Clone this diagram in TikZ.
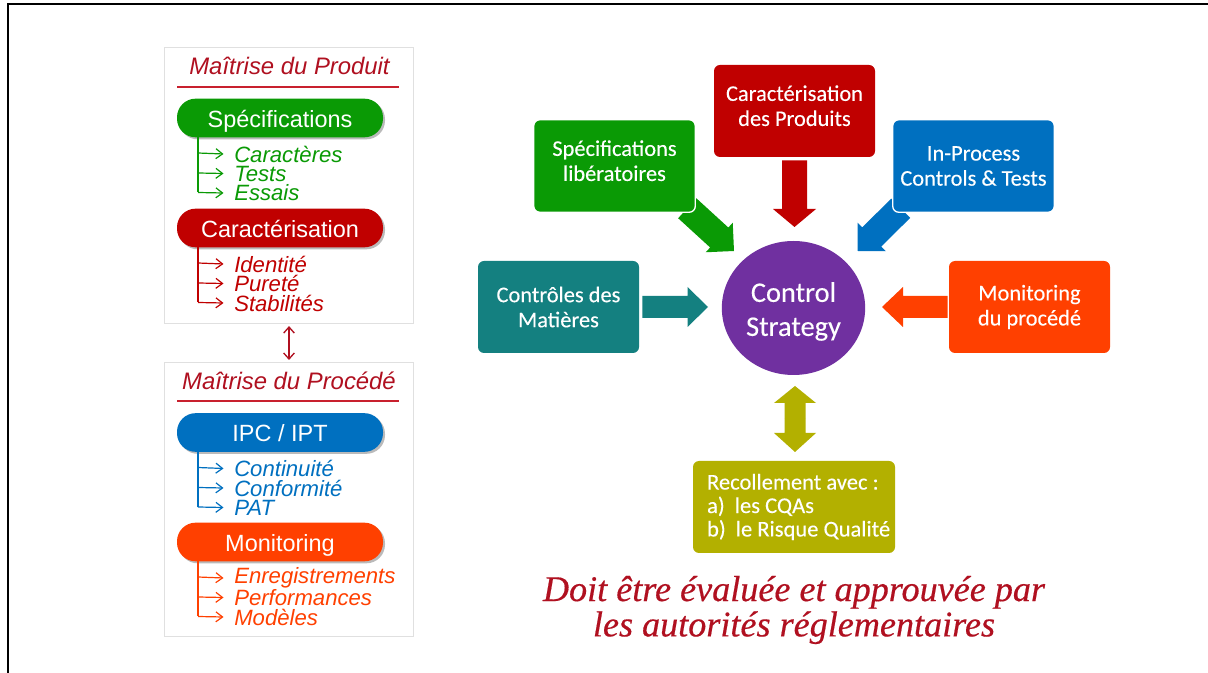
\documentclass[tikz,border=0pt]{standalone}
\usepackage{fontspec}
\setmainfont[FakeBold=0.2,AutoFakeBold=0.2]{Carlito}
\newfontfamily\armo{Liberation Sans}
\newfontfamily\timo[FakeBold=0.4]{Liberation Serif}
\usetikzlibrary{calc,shadows,arrows.meta,shapes.geometric}
\definecolor{cgreen}{HTML}{0A9A05}
\definecolor{cred}{HTML}{C00000}
\definecolor{cblue}{HTML}{0070C0}
\definecolor{corange}{HTML}{FF4000}
\definecolor{cteal}{HTML}{148080}
\definecolor{cpurple}{HTML}{7030A0}
\definecolor{colive}{HTML}{B3B000}
\definecolor{ctitle}{HTML}{B01020}
\definecolor{crule}{HTML}{C8202E}
\newcommand{\blockarrow}[6]{% start, tip, shaft half, head half, head length, colour
  \coordinate (ba) at #1; \coordinate (bt) at #2;
  \coordinate (bb) at ($(bt)!#5*0.75pt!(ba)$);
  \fill[#6] ($(ba)!#3*0.75pt!90:(bt)$) -- ($(bb)!#3*0.75pt!-90:(ba)$) -- ($(bb)!#4*0.75pt!-90:(ba)$) -- (bt)
    -- ($(bb)!#4*0.75pt!90:(ba)$) -- ($(bb)!#3*0.75pt!90:(ba)$) -- ($(ba)!#3*0.75pt!-90:(bt)$) -- cycle;
}
\newcommand{\lowstrut}{\rule[-8pt]{0pt}{1pt}}
\tikzset{
  panel/.style={draw=black!12,line width=.8pt,fill=white,anchor=north west,inner sep=0,minimum width=186.75pt},
  pill/.style={rounded corners=14pt,fill=#1,text=white,minimum width=154.5pt,minimum height=29pt,inner sep=0,
    text height=14pt,text depth=0pt,
    font=\armo\fontsize{17.6}{17.6}\selectfont,drop shadow={shadow xshift=1.5pt,shadow yshift=-1.5pt,opacity=.45,fill=black!60}},
  ptitle/.style={text=ctitle,font=\armo\itshape\fontsize{17.9}{17.9}\selectfont,inner sep=0},
  prule/.style={draw=crule,line width=1pt},
  item/.style={text=#1,font=\armo\itshape\fontsize{16.6}{16.6}\selectfont,anchor=west,inner sep=0},
  tree/.style={draw=#1,line width=.9pt,-{Straight Barb[length=5pt,width=7.5pt,line width=.9pt]}},
  bbox/.style={rounded corners=4.5pt,fill=#1,text=white,minimum width=120.75pt,minimum height=69pt,inner sep=0,align=center,
    font=\fontsize{16.8}{18.8}\selectfont},
}
\begin{document}
\begin{tikzpicture}[x=0.75pt,y=-0.75pt]
\useasboundingbox (0,0) rectangle (1208,673);
\fill[white] (0,0) rectangle (1208,673);
\draw[black,line width=1.1pt] (8,673) -- (8,4) -- (1208,4);

% left panels
\node[panel,minimum height=207pt] (p1) at (164,47) {};
\node[panel,minimum height=205.5pt] (p2) at (164,362) {};
\node[ptitle] (t1) at (289.5,66) {Maîtrise du Produit};
\coordinate (r1a) at (177,87); \coordinate (r1b) at (399,87);
\draw[prule] (r1a) -- (r1b);
\node[ptitle] (t2) at (289,381) {Maîtrise du Procédé};
\coordinate (r2a) at (177,401); \coordinate (r2b) at (399,401);
\draw[prule] (r2a) -- (r2b);
\draw[ctitle,line width=1pt,{Straight Barb[length=4.5pt,width=8pt,line width=1pt]}-{Straight Barb[length=4.5pt,width=8pt,line width=1pt]}] (p1.south -| 289,0) ++(0,2) -- (289,360);

\newcommand{\treeblock}[7]{% name, col, y, label, i1,i2,i3
  \node[pill=#2] (#1) at (280,#3) {#4};
  \node[item=#2] (#1a) at (234,#3+36) {#5};
  \node[item=#2] (#1b) at (234,#3+55.5) {#6};
  \node[item=#2] (#1c) at (234,#3+75) {#7};
  \coordinate (#1t) at (198,#3+19);
  \draw[tree=#2,-] (#1t) -- (198,#3+74.5);
  \draw[tree=#2] (198,#3+74.5) -- ([xshift=-10.5*0.75pt]#1c.west);
  \draw[tree=#2] (198,#3+35) -- ([xshift=-10.5*0.75pt]#1a.west);
  \draw[tree=#2] (198,#3+55) -- ([xshift=-10.5*0.75pt]#1b.west);
}
\treeblock{s}{cgreen}{118}{Spécifications}{Caractères}{Tests}{Essais}
\treeblock{c}{cred}{228}{Caractérisation}{Identité}{Pureté}{Stabilités}
\treeblock{i}{cblue}{432.5}{IPC / IPT}{Continuité}{Conformité}{PAT}
\treeblock{m}{corange}{542}{Monitoring}{Enregistrements}{Performances}{Modèles}

% centre
\node[ellipse,fill=cpurple,text=white,minimum width=107.5pt,minimum height=100.5pt,inner sep=0,align=center,font=\fontsize{21.3}{25.5}\selectfont] (cs) at (793.5,308) {\rule{0pt}{20pt}Control\\Strategy};
\node[bbox=cred] (car) at (794.5,111) {Caractérisation\\des Produits\lowstrut};
\node[bbox=cgreen] (spe) at (614.5,166) {Spécifications\\libératoires\lowstrut};
\node[bbox=cblue] (ipc) at (973.5,166) {In-Process\\Controls \& Tests};
\node[bbox=cteal] (cdm) at (558.5,307) {Contrôles des\\Matières};
\node[bbox=corange] (mon) at (1029.5,307) {Monitoring\\du procédé};
\node[rounded corners=4.5pt,fill=colive,text=white,minimum width=151.5pt,minimum height=69pt,inner sep=0,align=left,font=\fontsize{16.9}{17.6}\selectfont] (rec) at (794,507) {\hspace*{7pt}Recollement avec :\\\hspace*{7pt}a)\hspace{.45em}les CQAs\\\hspace*{7pt}b)\hspace{.45em}le Risque Qualité};

% block arrows
\coordinate (tcar) at (794.5,227);
\coordinate (tspe) at (734,251);
\coordinate (tipc) at (857.5,251);
\coordinate (tcdm) at (708,307);
\coordinate (tmon) at (882,307);
\coordinate (trt) at (795,386);
\coordinate (trb) at (795,452);
\coordinate (trm) at (795,419);
\blockarrow{($(car.south)+(0,3)$)}{(tcar)}{12.5}{21.5}{18}{cred}
\blockarrow{($(spe.south east)+(-8,-4)$)}{(tspe)}{13.5}{20}{20}{cgreen}
\blockarrow{($(ipc.south west)+(8,-4)$)}{(tipc)}{13.5}{20}{20}{cblue}
\blockarrow{($(cdm.east)+(3,0)$)}{(tcdm)}{11}{20}{20.5}{cteal}
\blockarrow{($(mon.west)+(-1,0)$)}{(tmon)}{11}{20}{21}{corange}
\blockarrow{(trm)}{(trt)}{10.5}{21}{17}{colive}
\blockarrow{(trm)}{(trb)}{10.5}{21}{19}{colive}
\draw[white,line width=1pt,rounded corners=4.5pt] (spe.south west) rectangle (spe.north east);
\draw[white,line width=1pt,rounded corners=4.5pt] (ipc.south west) rectangle (ipc.north east);

\node[text=ctitle,align=center,inner sep=0,font=\timo\itshape\fontsize{27.1}{26.5}\selectfont] (note) at (794,610) {Doit être évaluée et approuvée par\\les autorités réglementaires};
\end{tikzpicture}
\end{document}
